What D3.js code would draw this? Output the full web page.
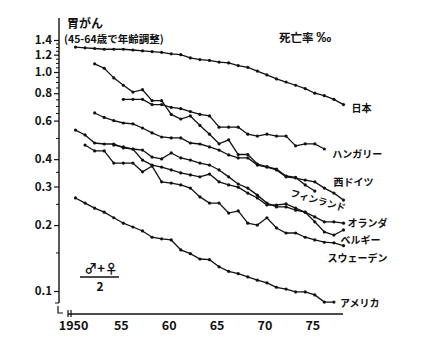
<!DOCTYPE html>
<html>
<head>
<meta charset="utf-8">
<script src="https://cdn.jsdelivr.net/npm/d3@7"></script>
<style>
  body { margin: 0; background: #fff; }
  text { font-family: "Noto Sans CJK JP", "Liberation Sans", sans-serif; fill: #111; }
</style>
</head>
<body>
<svg id="chart" width="445" height="343"></svg>
<script>
// years and axis ticks
const tickYears = [1950, 1955, 1960, 1965, 1970, 1975]
const yLabels = [1.4, 1.2, 1.0, 0.8, 0.6, 0.4, 0.3, 0.2, 0.1]
const yMinor = [1.35, 1.3, 1.25, 1.15, 1.1, 1.05, 0.95, 0.9, 0.85, 0.75, 0.7, 0.65, 0.5, 0.35, 0.25, 0.15]

// stomach cancer death rate (per mille), one value per year from the start year
const seriesNames = ['日本', 'ハンガリー', 'フィンランド', '西ドイツ', 'オランダ', 'ベルギー', 'スウェーデン', 'アメリカ']
const seriesStart = [1950, 1955, 1952, 1952, 1950, 1954, 1951, 1950]

const japan = [1.30, 1.29, 1.28, 1.27, 1.27, 1.27, 1.26, 1.25, 1.24, 1.23, 1.21, 1.20, 1.16, 1.14, 1.13,
  1.11, 1.10, 1.07, 1.05, 1.01, 0.97, 0.93, 0.90, 0.87, 0.84, 0.80, 0.78, 0.75, 0.71]
const hungary = [0.75, 0.75, 0.75, 0.71, 0.71, 0.69, 0.68, 0.66, 0.64, 0.63, 0.56, 0.56, 0.56, 0.52,
  0.51, 0.52, 0.51, 0.51, 0.46, 0.47, 0.47, 0.445]
const finland = [1.09, 1.04, 0.94, 0.87, 0.81, 0.83, 0.74, 0.74, 0.64, 0.61, 0.63, 0.57, 0.52, 0.47,
  0.49, 0.42, 0.42, 0.38, 0.37, 0.36, 0.335, 0.33, 0.305, 0.286]
const westGermany = [0.65, 0.62, 0.60, 0.585, 0.58, 0.555, 0.527, 0.505, 0.50, 0.50, 0.474, 0.469, 0.455,
  0.44, 0.418, 0.405, 0.405, 0.376, 0.368, 0.357, 0.332, 0.328, 0.321, 0.315, 0.295, 0.28, 0.26]
const netherlands = [0.543, 0.516, 0.474, 0.469, 0.469, 0.45, 0.445, 0.44, 0.409, 0.401, 0.427, 0.405,
  0.396, 0.384, 0.376, 0.357, 0.332, 0.308, 0.295, 0.274, 0.252, 0.242, 0.242, 0.234, 0.229, 0.218,
  0.207, 0.207, 0.204]
const belgium = [0.464, 0.455, 0.445, 0.396, 0.376, 0.368, 0.357, 0.346, 0.339, 0.332, 0.342, 0.315,
  0.305, 0.298, 0.28, 0.266, 0.247, 0.247, 0.25, 0.239, 0.229, 0.207, 0.186, 0.18, 0.19]
const sweden = [0.464, 0.436, 0.436, 0.384, 0.384, 0.384, 0.35, 0.372, 0.315, 0.311, 0.305, 0.295,
  0.269, 0.252, 0.252, 0.227, 0.232, 0.204, 0.2, 0.216, 0.194, 0.184, 0.184, 0.176, 0.171, 0.167,
  0.166, 0.161]
const usa = [0.266, 0.252, 0.239, 0.229, 0.216, 0.204, 0.196, 0.188, 0.176, 0.173, 0.171, 0.154, 0.148,
  0.14, 0.139, 0.129, 0.123, 0.12, 0.116, 0.112, 0.109, 0.104, 0.102, 0.099, 0.099, 0.096, 0.089, 0.089]

const seriesValues = [japan, hungary, finland, westGermany, netherlands, belgium, sweden, usa]

// label offsets from the last point of each line
const labelOffsets = [[8, 7], [8, 9], [-25, 5], [-10, -14], [4, 4], [-3, 14], [-16, 16], [6, 5]]

const svg = d3.select('#chart')
const x = d3.scaleLinear().domain([1950, 1978]).range([75.5, 343.5])
const y = d3.scaleLog().domain([0.1, 1]).range([291, 72])

const series = seriesNames.map((name, i) => ({
  name,
  points: seriesValues[i].map((v, j) => ({ year: seriesStart[i] + j, value: v }))
}))

// axes
svg.append('line').attr('x1', 59).attr('x2', 59).attr('y1', 18).attr('y2', 303)
  .attr('stroke', '#111').attr('stroke-width', 1.4)
svg.append('path').attr('d', 'M55,303H59M58,306V313H63M68,310V317M71,310V317')
  .attr('fill', 'none').attr('stroke', '#111').attr('stroke-width', 1.2)
svg.append('line').attr('x1', 68).attr('x2', 343).attr('y1', 314).attr('y2', 314)
  .attr('stroke', '#111').attr('stroke-width', 1.4)

const yAxis = svg.append('g').attr('transform', 'translate(59,0)')
  .call(d3.axisLeft(y).tickValues(yLabels).tickFormat(d3.format('.1f')).tickSize(5).tickPadding(2))
yAxis.select('.domain').remove()
yAxis.selectAll('line').attr('stroke', '#111').attr('stroke-width', 1.2)
yAxis.selectAll('text').attr('font-family', 'Liberation Sans').attr('font-size', 11.5)
  .attr('font-weight', 'bold').style('fill', '#111')

const yAxisMinor = svg.append('g').attr('transform', 'translate(59,0)')
  .call(d3.axisLeft(y).tickValues(yMinor).tickFormat('').tickSize(3))
yAxisMinor.select('.domain').remove()
yAxisMinor.selectAll('line').attr('stroke', '#111').attr('stroke-width', 1)

const xAxis = svg.append('g').attr('transform', 'translate(0,316)')
  .call(d3.axisBottom(x).tickValues(tickYears).tickSize(0).tickPadding(5)
    .tickFormat(d => d === 1950 ? '1950' : String(d).slice(2)))
xAxis.select('.domain').remove()
xAxis.selectAll('text').attr('font-family', 'Liberation Sans').attr('font-size', 12.5)
  .attr('font-weight', 'bold').attr('dx', -2.5).style('fill', '#111')

// lines and markers
const line = d3.line().x(d => x(d.year)).y(d => y(d.value))
const groups = svg.append('g').selectAll('g').data(series).enter().append('g')

groups.append('path')
  .attr('d', d => line(d.points))
  .attr('fill', 'none').attr('stroke', '#111').attr('stroke-width', 1.3)

groups.selectAll('circle').data(d => d.points).enter().append('circle')
  .attr('cx', d => x(d.year)).attr('cy', d => y(d.value)).attr('r', 1.6).attr('fill', '#111')

groups.append('text')
  .attr('transform', (d, i) => {
    const last = d.points[d.points.length - 1]
    const px = x(last.year) + labelOffsets[i][0]
    const py = y(last.value) + labelOffsets[i][1]
    return d.name === 'フィンランド' ? `translate(${px},${py}) rotate(16)` : `translate(${px},${py})`
  })
  .attr('font-size', d => d.name === 'フィンランド' ? 9.5 : 10)
  .attr('font-weight', 'bold')
  .text(d => d.name)

// titles
svg.append('text').attr('x', 67).attr('y', 28).attr('font-size', 12).attr('font-weight', 'bold').text('胃がん')
svg.append('text').attr('x', 64).attr('y', 43).attr('font-size', 10.5).attr('font-weight', 'bold').text('(45-64歳で年齢調整)')
const rateTitle = svg.append('text').attr('x', 279).attr('y', 42).attr('font-size', 11.5).attr('font-weight', 'bold')
rateTitle.append('tspan').text('死亡率 ')
rateTitle.append('tspan').attr('font-size', 15).attr('font-family', 'Liberation Sans').text('‰')

// sex legend
svg.append('text').attr('x', 101).attr('y', 273).attr('text-anchor', 'middle')
  .attr('font-size', 13).attr('font-weight', 'bold').text('♂+♀')
svg.append('line').attr('x1', 80).attr('x2', 119).attr('y1', 277).attr('y2', 277)
  .attr('stroke', '#111').attr('stroke-width', 1.3)
svg.append('text').attr('x', 100).attr('y', 291).attr('text-anchor', 'middle')
  .attr('font-family', 'Liberation Sans').attr('font-size', 12).attr('font-weight', 'bold').text('2')
</script>
</body>
</html>
